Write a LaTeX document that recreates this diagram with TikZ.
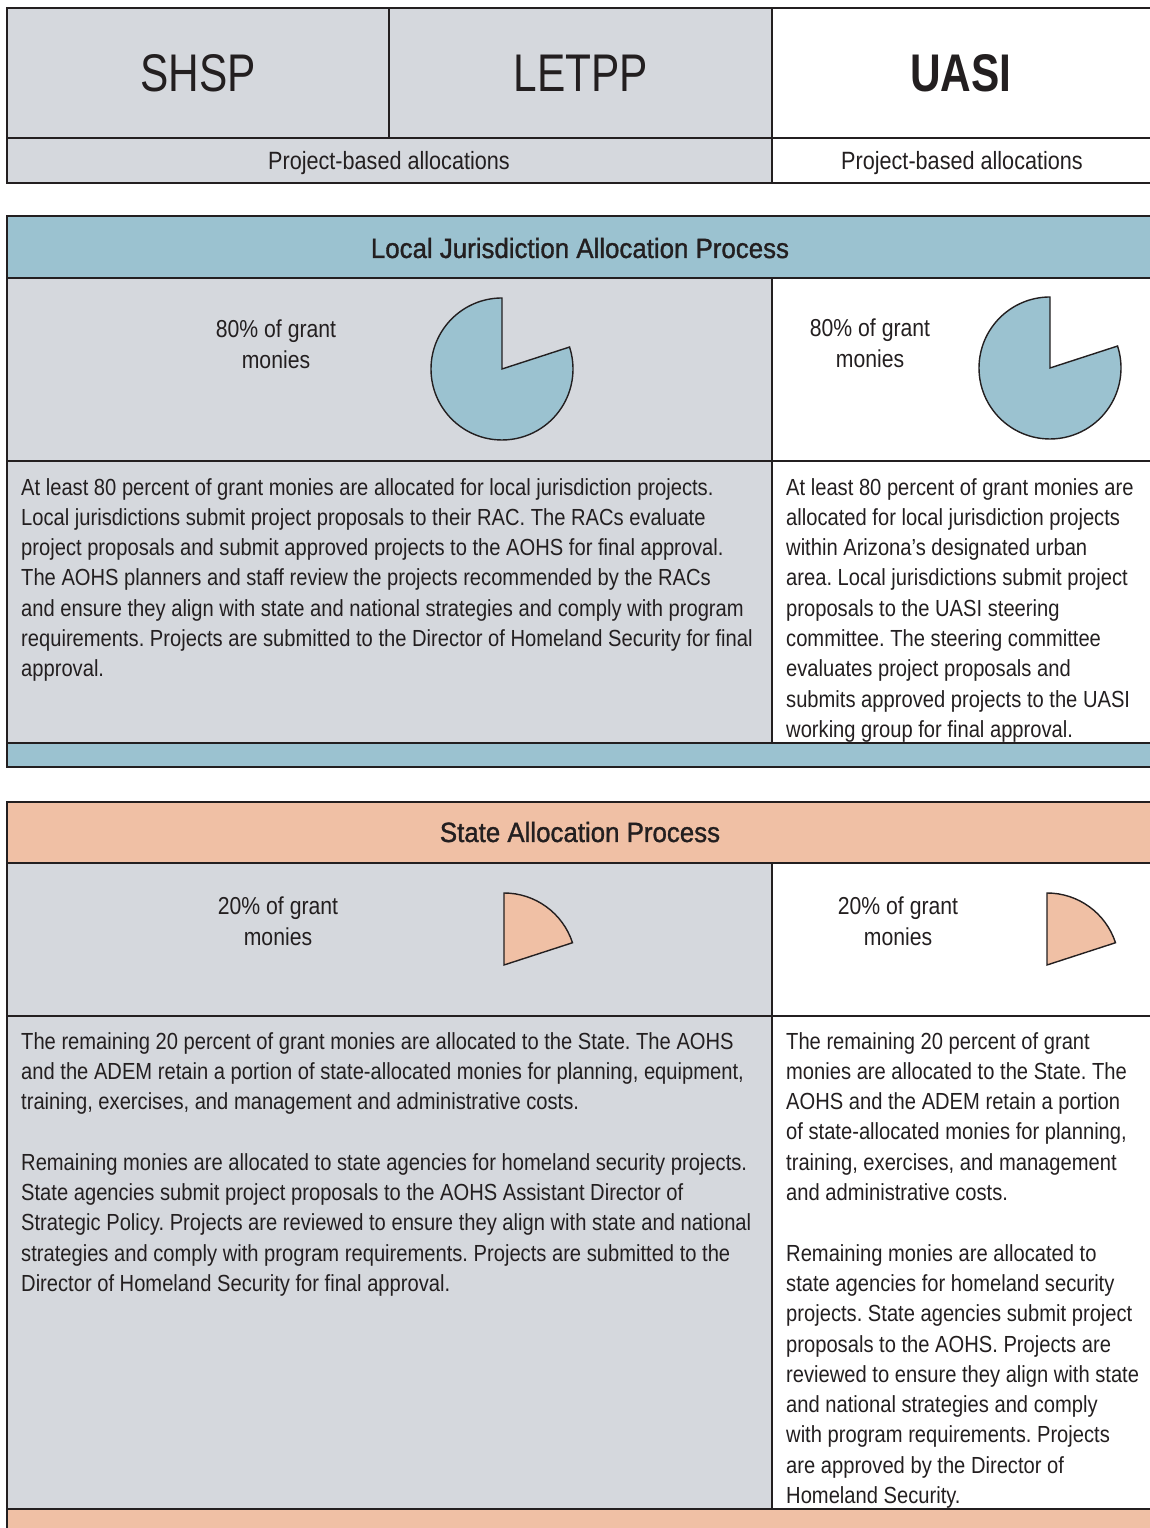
\documentclass[tikz,border=0pt]{standalone}
\usepackage{fontspec}
\usepackage{xcolor}
\usepackage{tikz}
\setmainfont{Liberation Sans}[FakeStretch=0.865]
\newfontfamily\headfont{Liberation Sans}[FakeStretch=0.8]
\newfontfamily\titlefont{Liberation Sans}[FakeStretch=0.93,FakeBold=1.2]
\frenchspacing
\definecolor{ink}{HTML}{231F20}
\definecolor{cellgray}{HTML}{D5D8DD}
\definecolor{localblue}{HTML}{9BC2D0}
\definecolor{stateorange}{HTML}{F0C0A5}
\tikzset{
	frame/.style={draw=ink, line width=2pt, line cap=rect},
	divider/.style={draw=ink, line width=1.4pt},
	piece/.style={draw=ink, line width=1.4pt, line join=miter},
	headtext/.style={text=ink, inner sep=0pt, font=\headfont\fontsize{53}{60}\selectfont},
	subtext/.style={text=ink, inner sep=0pt, anchor=base, font=\fontsize{25}{30}\selectfont},
	titletext/.style={text=ink, inner sep=0pt, anchor=base, font=\titlefont\fontsize{27.8}{32}\selectfont},
	pcttext/.style={text=ink, inner sep=0pt, anchor=north, align=center, font=\fontsize{24.5}{31}\selectfont},
	bodytext/.style={text=ink, inner sep=0pt, anchor=north west, align=left, font=\fontsize{23.3}{30.3}\selectfont}
}

\begin{document}
\begin{tikzpicture}[x=1pt,y=1pt]
	\useasboundingbox (0,0) rectangle (1150,1528);
	% Fill cells
	\fill[cellgray] (7,1345) rectangle (772,1520);
	\fill[localblue] (7,1250) rectangle (1150,1312);
	\fill[cellgray] (7,785) rectangle (772,1250);
	\fill[localblue] (7,761) rectangle (1150,785);
	\fill[stateorange] (7,665) rectangle (1150,726);
	\fill[cellgray] (7,19) rectangle (772,665);
	\fill[stateorange] (7,0) rectangle (1150,19);
	% Draw rules
	\foreach \y in {1520,1390,1345,1312,1250,785,761,726,665,19}
	\draw[frame] (7,\y) -- (1150,\y);
	\foreach \y in {1067,512}
	\draw[divider] (7,\y) -- (1150,\y);
	\draw[frame] (7,1520) -- (7,1345);
	\draw[frame] (7,1312) -- (7,761);
	\draw[frame] (7,726) -- (7,-5);
	\draw[divider] (389,1520) -- (389,1390);
	\draw[frame] (772,1520) -- (772,1345);
	\draw[frame] (772,1250) -- (772,785);
	\draw[frame] (772,665) -- (772,19);
	% Draw pies
	\draw[piece, fill=localblue] (502,1159) -- ++(90:71) arc[start angle=90, end angle=378, radius=71] -- cycle;
	\draw[piece, fill=localblue] (1050,1160) -- ++(90:71) arc[start angle=90, end angle=378, radius=71] -- cycle;
	\draw[piece, fill=stateorange] (504,563) -- ++(18:72) arc[start angle=18, end angle=90, radius=72] -- cycle;
	\draw[piece, fill=stateorange] (1047,563) -- ++(18:72) arc[start angle=18, end angle=90, radius=72] -- cycle;
	% Program heads
	\node[headtext] (shsp) at (198,1455) {SHSP};
	\node[headtext] (letpp) at (581,1455) {LETPP};
	\node[headtext, font=\headfont\bfseries\fontsize{53}{60}\selectfont] (uasi) at (961,1455) {UASI};
	\node[subtext] (shspsub) at (389,1358) {Project-based allocations};
	\node[subtext] (uasisub) at (962,1358) {Project-based allocations};
	% Local jurisdiction block
	\node[titletext] (localtitle) at (580,1270) {Local Jurisdiction Allocation Process};
	\node[pcttext] (localpct) at (276,1208) {80\% of grant\\monies};
	\node[pcttext] (uasipct) at (870,1209) {80\% of grant\\monies};
	\node[bodytext] (localtext) at (21,1050) {At least 80 percent of grant monies are allocated for local jurisdiction projects.\\
		Local jurisdictions submit project proposals to their RAC. The RACs evaluate\\
		project proposals and submit approved projects to the AOHS for final approval.\\
		The AOHS planners and staff review the projects recommended by the RACs\\
		and ensure they align with state and national strategies and comply with program\\
		requirements. Projects are submitted to the Director of Homeland Security for final\\
		approval.};
	\node[bodytext] (uasitext) at (786,1050) {At least 80 percent of grant monies are\\
		allocated for local jurisdiction projects\\
		within Arizona’s designated urban\\
		area. Local jurisdictions submit project\\
		proposals to the UASI steering\\
		committee. The steering committee\\
		evaluates project proposals and\\
		submits approved projects to the UASI\\
		working group for final approval.};
	% State block
	\node[titletext] (statetitle) at (580,686) {State Allocation Process};
	\node[pcttext] (statepct) at (278,631) {20\% of grant\\monies};
	\node[pcttext] (stateuasipct) at (898,631) {20\% of grant\\monies};
	\node[bodytext] (statetext) at (21,496) {The remaining 20 percent of grant monies are allocated to the State. The AOHS\\
		and the ADEM retain a portion of state-allocated monies for planning, equipment,\\
		training, exercises, and management and administrative costs.\\[30.3pt]
		Remaining monies are allocated to state agencies for homeland security projects.\\
		State agencies submit project proposals to the AOHS Assistant Director of\\
		Strategic Policy. Projects are reviewed to ensure they align with state and national\\
		strategies and comply with program requirements. Projects are submitted to the\\
		Director of Homeland Security for final approval.};
	\node[bodytext] (stateuasitext) at (786,496) {The remaining 20 percent of grant\\
		monies are allocated to the State. The\\
		AOHS and the ADEM retain a portion\\
		of state-allocated monies for planning,\\
		training, exercises, and management\\
		and administrative costs.\\[30.3pt]
		Remaining monies are allocated to\\
		state agencies for homeland security\\
		projects. State agencies submit project\\
		proposals to the AOHS. Projects are\\
		reviewed to ensure they align with state\\
		and national strategies and comply\\
		with program requirements. Projects\\
		are approved by the Director of\\
		Homeland Security.};
\end{tikzpicture}
\end{document}
